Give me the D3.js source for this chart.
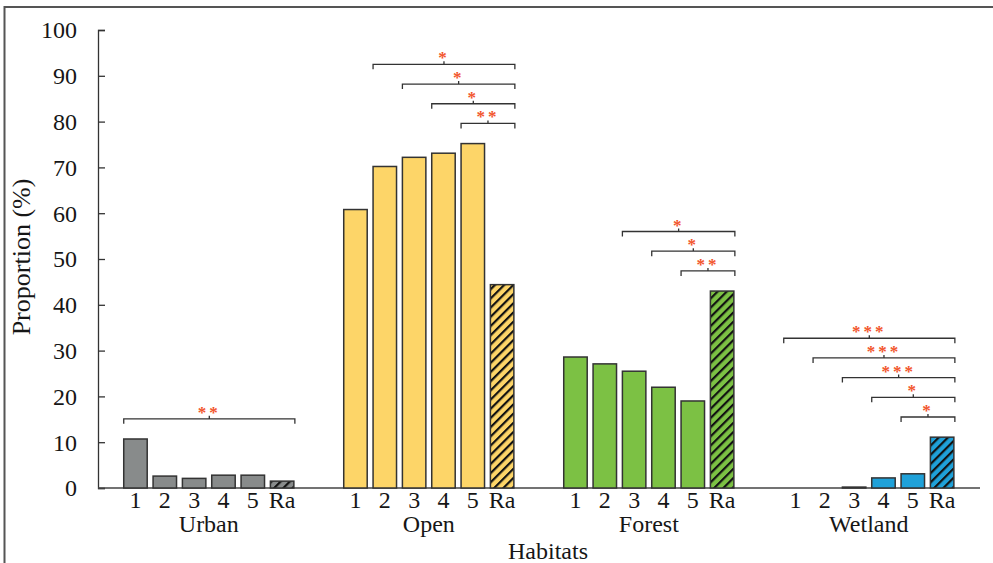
<!DOCTYPE html>
<html>
<head>
<meta charset="utf-8">
<script src="https://cdn.jsdelivr.net/npm/d3@7"></script>
<style>
  body { margin: 0; background: #fff; }
  svg { display: block; }
</style>
</head>
<body>
<svg id="chart" width="993" height="563" font-family="'Liberation Serif', Tinos, 'Times New Roman', Times, serif"></svg>
<script>
'use strict';

var habitats = ["Urban", "Open", "Forest", "Wetland"];
var classes = ["1", "2", "3", "4", "5", "Ra"];
var urbanValues = [10.7, 2.6, 2.1, 2.8, 2.8, 1.5];
var openValues = [60.8, 70.2, 72.2, 73.1, 75.2, 44.4];
var forestValues = [28.6, 27.1, 25.5, 22.0, 19.0, 43.0];
var wetlandValues = [0, 0, 0.2, 2.2, 3.1, 11.1];
var yTicks = [0, 10, 20, 30, 40, 50, 60, 70, 80, 90, 100];

// significance brackets: each runs from a class to "Ra", lowest first
var urbanSig = [{from: "1", stars: "**"}];
var openSig = [{from: "5", stars: "**"}, {from: "4", stars: "*"}, {from: "3", stars: "*"}, {from: "2", stars: "*"}];
var forestSig = [{from: "5", stars: "**"}, {from: "4", stars: "*"}, {from: "3", stars: "*"}];
var wetlandSig = [{from: "5", stars: "*"}, {from: "4", stars: "*"}, {from: "3", stars: "***"},
                  {from: "2", stars: "***"}, {from: "1", stars: "***"}];

var colors = ["#888b8b", "#fdd568", "#7cc144", "#1fa1d9"];
var valueSets = [urbanValues, openValues, forestValues, wetlandValues];
var sigSets = [urbanSig, openSig, forestSig, wetlandSig];

var data = habitats.map(function(h, i) {
  return {name: h, color: colors[i], values: valueSets[i], sig: sigSets[i]};
});

var svg = d3.select("#chart");
var textColor = "#161616";

// outer frame
svg.append("rect")
  .attr("x", 4.5).attr("y", 7)
  .attr("width", 1000).attr("height", 600)
  .attr("fill", "none").attr("stroke", "#555").attr("stroke-width", 2);

var defs = svg.append("defs");
data.forEach(function(d, i) {
  var p = defs.append("pattern")
    .attr("id", "hatch" + i)
    .attr("patternUnits", "userSpaceOnUse")
    .attr("width", 6.5).attr("height", 6.5)
    .attr("patternTransform", "rotate(45)");
  p.append("rect").attr("width", 6.5).attr("height", 6.5).attr("fill", d.color);
  p.append("line").attr("x1", 0).attr("y1", 0).attr("x2", 0).attr("y2", 6.5)
    .attr("stroke", "#111").attr("stroke-width", 4.4);
});

var y = d3.scaleLinear().domain([0, 100]).range([488, 30]);
var x0 = d3.scaleBand().domain(habitats).range([98.8, 978.8]);
var x1 = d3.scaleBand().domain(classes).range([0, x0.bandwidth()])
  .paddingInner(0.2).paddingOuter(0.85);

// y axis, ticks pointing inward
var yAxis = svg.append("g")
  .attr("transform", "translate(98,0)")
  .call(d3.axisRight(y).tickValues(yTicks).tickSize(7).tickFormat(""));
yAxis.select(".domain").attr("stroke", "#333").attr("stroke-width", 1.3);
yAxis.selectAll(".tick line").attr("stroke", "#333").attr("stroke-width", 1.3);

svg.selectAll(".ylab")
  .data(yTicks)
  .enter().append("text")
  .attr("class", "ylab")
  .attr("x", 77)
  .attr("y", function(d) { return y(d); })
  .attr("dy", "0.35em")
  .attr("text-anchor", "end")
  .attr("font-size", "24px")
  .attr("fill", textColor)
  .text(function(d) { return d; });

// x axis line
svg.append("line")
  .attr("x1", 98).attr("x2", 980)
  .attr("y1", y(0)).attr("y2", y(0))
  .attr("stroke", "#444").attr("stroke-width", 1.3);

var groups = svg.selectAll(".habitat")
  .data(data)
  .enter().append("g")
  .attr("class", "habitat")
  .attr("transform", function(d) { return "translate(" + x0(d.name) + ",0)"; });

groups.selectAll("rect")
  .data(function(d, gi) {
    return d.values.map(function(v, i) { return {cls: classes[i], value: v, color: d.color, gi: gi}; });
  })
  .enter().append("rect")
  .attr("x", function(d) { return x1(d.cls); })
  .attr("y", function(d) { return y(d.value); })
  .attr("width", x1.bandwidth())
  .attr("height", function(d) { return y(0) - y(d.value); })
  .attr("fill", function(d) { return d.cls === "Ra" ? "url(#hatch" + d.gi + ")" : d.color; })
  .attr("stroke", "#333")
  .attr("stroke-width", 1.5);

// class labels
groups.selectAll(".clab")
  .data(classes)
  .enter().append("text")
  .attr("class", "clab")
  .attr("x", function(d) { return x1(d) + x1.bandwidth() / 2; })
  .attr("y", 508)
  .attr("text-anchor", "middle")
  .attr("font-size", "24px")
  .attr("fill", textColor)
  .text(function(d) { return d; });

// habitat labels
groups.append("text")
  .attr("x", x0.bandwidth() / 2)
  .attr("y", 532)
  .attr("text-anchor", "middle")
  .attr("font-size", "24px")
  .attr("fill", textColor)
  .text(function(d) { return d.name; });

// significance brackets
var step = 4.3;
groups.each(function(d) {
  var g = d3.select(this);
  var base = d3.max(d.values) + 4.4;
  var xr = x1("Ra") + x1.bandwidth() + 1;
  d.sig.forEach(function(s, i) {
    var yy = y(base + i * step);
    var xl = x1(s.from);
    var xm = (xl + xr) / 2;
    g.append("path")
      .attr("d", "M" + xl + "," + (yy + 5) + "V" + yy + "H" + xr + "V" + (yy + 5) +
        "M" + xm + "," + yy + "V" + (yy - 3))
      .attr("fill", "none")
      .attr("stroke", "#333")
      .attr("stroke-width", 1.3);
    g.append("text")
      .attr("x", xm)
      .attr("y", yy - 1)
      .attr("text-anchor", "middle")
      .attr("font-size", "17px")
      .attr("font-weight", "bold")
      .attr("letter-spacing", "3px")
      .attr("fill", "#f2552c")
      .text(s.stars);
  });
});

// axis titles
svg.append("text")
  .attr("x", 548)
  .attr("y", 559)
  .attr("text-anchor", "middle")
  .attr("font-size", "24px")
  .attr("fill", textColor)
  .text("Habitats");

svg.append("text")
  .attr("transform", "translate(30,257) rotate(-90)")
  .attr("text-anchor", "middle")
  .attr("font-size", "26px")
  .attr("fill", textColor)
  .text("Proportion (%)");
</script>
</body>
</html>
